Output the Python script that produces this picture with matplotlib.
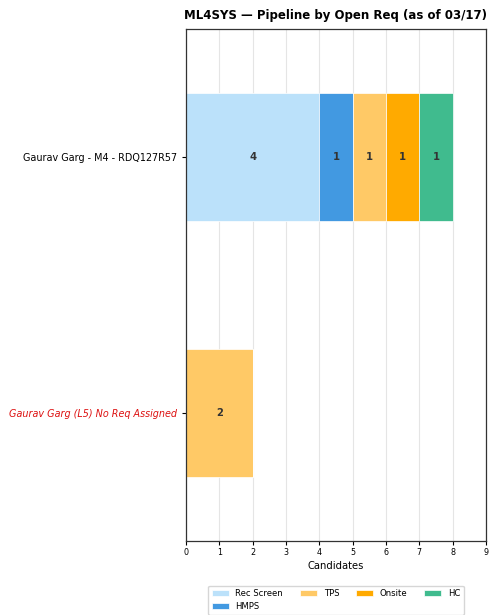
import matplotlib.pyplot as plt
import numpy as np

# data
reqs = ["Gaurav Garg - M4 - RDQ127R57", "Gaurav Garg (L5) No Req Assigned"]
stages = ["Rec Screen", "HMPS", "TPS", "Onsite", "HC"]
counts = {
    "Rec Screen": [4, 0],
    "HMPS": [1, 0],
    "TPS": [1, 2],
    "Onsite": [1, 0],
    "HC": [1, 0],
}
colors = ["#BBE1FA", "#4299E1", "#FFC966", "#FFAA00", "#40BB8E"]

fig = plt.figure(figsize=(5, 6.15), dpi=100)
ax = fig.add_axes([0.372, 0.1203, 0.6, 0.8325])

y = np.arange(len(reqs))
left = np.zeros(len(reqs))
for stage, c in zip(stages, colors):
    vals = np.array(counts[stage], dtype=float)
    ax.barh(y, vals, left=left, height=0.5, color=c, edgecolor="white",
            linewidth=0.5, label=stage, zorder=2)
    for yi, v, l in zip(y, vals, left):
        if v > 0:
            ax.text(l + v / 2, yi, f"{int(v)}", ha="center", va="center",
                    fontsize=7.2, fontweight="bold", color="#333333", zorder=3)
    left += vals

ax.set_yticks(y)
ax.set_yticklabels(reqs, fontsize=6.9)
lbl = ax.get_yticklabels()[1]
lbl.set_color("#DD1111")
lbl.set_fontstyle("italic")
ax.set_ylim(1.5, -0.5)
ax.tick_params(axis="y", length=3, width=0.8)

ax.set_xlim(0, 9)
ax.set_xticks(range(10))
ax.tick_params(axis="x", labelsize=5.8, length=3, width=0.8, pad=2)
ax.set_xlabel("Candidates", fontsize=7.2, labelpad=3)
ax.grid(axis="x", color="#e5e5e5", linewidth=0.8, zorder=0)
ax.set_axisbelow(True)
for s in ax.spines.values():
    s.set_linewidth(0.9)
    s.set_color("#333333")

ax.set_title("ML4SYS \u2014 Pipeline by Open Req (as of 03/17)",
             fontsize=8.5, fontweight="bold", pad=7)

ax.legend(loc="upper center", bbox_to_anchor=(0.5, -0.079), ncol=4,
          fontsize=6.1, frameon=True)

fig.savefig("out.png", dpi=100)
